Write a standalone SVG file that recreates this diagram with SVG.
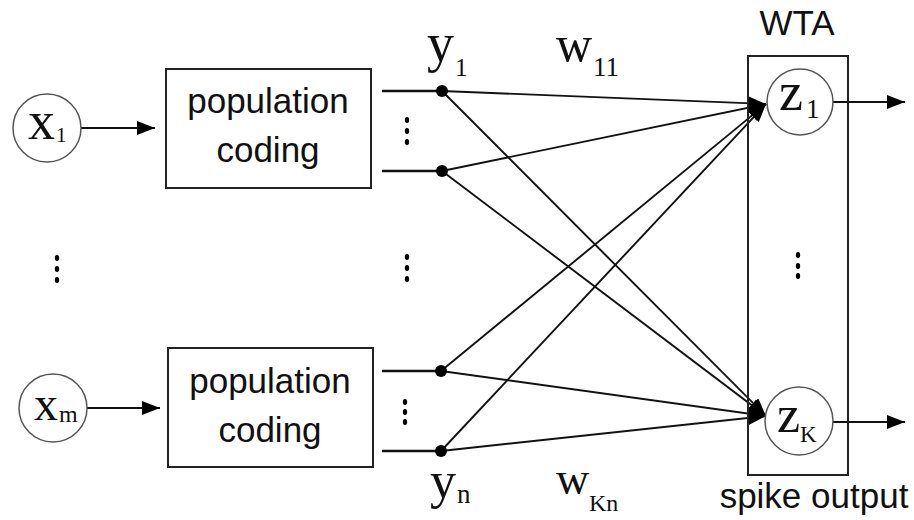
<svg xmlns="http://www.w3.org/2000/svg" width="914" height="520" viewBox="0 0 914 520">
<style>
.bg{fill:#fff}
.box{fill:none;stroke:#222;stroke-width:2}
.node{fill:#fff;stroke:#555;stroke-width:1.5}
.sans{font-family:"Liberation Sans",Arial,sans-serif;font-size:35px;fill:#111}
.serif{font-family:"Liberation Serif","Times New Roman",serif;fill:#111}
.conn{stroke:#111;stroke-width:1.9;fill:none}
.stub{stroke:#111;stroke-width:2.5;fill:none}
.dot{fill:#000}
.sd{fill:#000}
</style>
<defs>
<marker id="ah" viewBox="0 0 18 14" refX="18" refY="7" markerWidth="18" markerHeight="14" markerUnits="userSpaceOnUse" orient="auto">
<path d="M0,0 L18,7 L0,14 Z" fill="#000"/>
</marker>
</defs>
<rect class="bg" x="0" y="0" width="914" height="520"/>

<g id="connectors">
<line class="conn" x1="81" y1="128" x2="155" y2="128" marker-end="url(#ah)"/>
<line class="conn" x1="87" y1="408" x2="160" y2="408" marker-end="url(#ah)"/>
<line class="stub" x1="382" y1="91" x2="442" y2="91"/>
<line class="stub" x1="382" y1="171" x2="442" y2="171"/>
<line class="stub" x1="382" y1="371" x2="441" y2="371"/>
<line class="stub" x1="382" y1="451" x2="441" y2="451"/>
<line class="conn" x1="442" y1="91" x2="766" y2="104" marker-end="url(#ah)"/>
<line class="conn" x1="442" y1="171" x2="766" y2="104" marker-end="url(#ah)"/>
<line class="conn" x1="441" y1="371" x2="766" y2="104" marker-end="url(#ah)"/>
<line class="conn" x1="441" y1="451" x2="766" y2="104" marker-end="url(#ah)"/>
<line class="conn" x1="442" y1="91" x2="766" y2="416" marker-end="url(#ah)"/>
<line class="conn" x1="442" y1="171" x2="766" y2="416" marker-end="url(#ah)"/>
<line class="conn" x1="441" y1="371" x2="766" y2="416" marker-end="url(#ah)"/>
<line class="conn" x1="441" y1="451" x2="766" y2="416" marker-end="url(#ah)"/>
<line class="conn" x1="833" y1="102" x2="905" y2="102" marker-end="url(#ah)"/>
<line class="conn" x1="833" y1="422" x2="905" y2="422" marker-end="url(#ah)"/>
</g>

<g id="x1">
<circle class="node" cx="47" cy="128" r="34"/>
<text class="serif" x="28" y="139" font-size="54">x</text>
<text class="serif" x="56" y="142" font-size="21">1</text>
</g>
<g id="xm">
<circle class="node" cx="53" cy="408" r="34"/>
<text class="serif" x="34" y="420" font-size="48">x</text>
<text class="serif" x="59" y="422" font-size="24">m</text>
</g>

<g id="pc1">
<rect class="box" x="166" y="69" width="205" height="119"/>
<text class="sans" x="268" y="113" text-anchor="middle">population</text>
<text class="sans" x="268" y="162" text-anchor="middle">coding</text>
</g>
<g id="pc2">
<rect class="box" x="168" y="348" width="205" height="119"/>
<text class="sans" x="270" y="393" text-anchor="middle">population</text>
<text class="sans" x="270" y="442" text-anchor="middle">coding</text>
</g>

<g id="ydots">
<circle class="dot" cx="442" cy="91" r="6"/>
<circle class="dot" cx="442" cy="171" r="6"/>
<circle class="dot" cx="441" cy="371" r="6"/>
<circle class="dot" cx="441" cy="451" r="6"/>
</g>

<g id="ellipsis">
<ellipse class="sd" cx="407" cy="120" rx="2.2" ry="3"/>
<ellipse class="sd" cx="407" cy="131" rx="2.2" ry="3"/>
<ellipse class="sd" cx="407" cy="142" rx="2.2" ry="3"/>
<ellipse class="sd" cx="405" cy="402" rx="2.2" ry="3"/>
<ellipse class="sd" cx="405" cy="412" rx="2.2" ry="3"/>
<ellipse class="sd" cx="405" cy="422" rx="2.2" ry="3"/>
<ellipse class="sd" cx="57" cy="258" rx="2.2" ry="3"/>
<ellipse class="sd" cx="57" cy="269" rx="2.2" ry="3"/>
<ellipse class="sd" cx="57" cy="280" rx="2.2" ry="3"/>
<ellipse class="sd" cx="407" cy="257" rx="2.2" ry="3"/>
<ellipse class="sd" cx="407" cy="268" rx="2.2" ry="3"/>
<ellipse class="sd" cx="407" cy="279" rx="2.2" ry="3"/>
<ellipse class="sd" cx="798" cy="255" rx="2.2" ry="3"/>
<ellipse class="sd" cx="798" cy="266" rx="2.2" ry="3"/>
<ellipse class="sd" cx="798" cy="276" rx="2.2" ry="3"/>
</g>

<g id="labels">
<text class="serif" x="427" y="61" font-size="54">y</text>
<text class="serif" x="455" y="76" font-size="25">1</text>
<text class="serif" x="556" y="61" font-size="50">w</text>
<text class="serif" x="593" y="76" font-size="27">11</text>
<text class="serif" x="430" y="498" font-size="52">y</text>
<text class="serif" x="457" y="503" font-size="27">n</text>
<text class="serif" x="556" y="494" font-size="46">w</text>
<text class="serif" x="589" y="511" font-size="24">Kn</text>
</g>

<g id="wta">
<rect class="box" x="748" y="56" width="100" height="419"/>
<text class="sans" x="797" y="35" text-anchor="middle">WTA</text>
<text class="sans" x="814" y="508" text-anchor="middle">spike output</text>
</g>
<g id="z1">
<circle class="node" cx="800" cy="102" r="33"/>
<text class="serif" x="779" y="110" font-size="54">z</text>
<text class="serif" x="806" y="118" font-size="27">1</text>
</g>
<g id="zK">
<circle class="node" cx="799" cy="421" r="34"/>
<text class="serif" x="777" y="432" font-size="52">z</text>
<text class="serif" x="800" y="442" font-size="23">K</text>
</g>
</svg>
